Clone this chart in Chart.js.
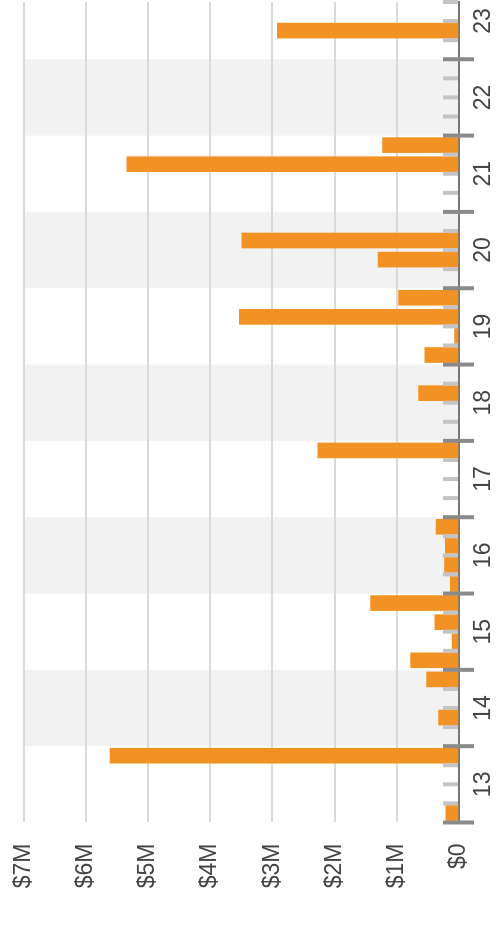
<!DOCTYPE html>
<html>
<head>
<meta charset="utf-8">
<script src="https://cdn.jsdelivr.net/npm/chart.js@4.4.1/dist/chart.umd.min.js"></script>
<style>
  html, body { margin: 0; padding: 0; background: #fff; overflow: hidden; }
  body { width: 496px; height: 930px; position: relative; }
  /* chart is drawn landscape, then turned a quarter turn counter-clockwise */
  #wrap {
    position: absolute; left: 0; top: 0;
    width: 930px; height: 496px;
    transform-origin: 0 0;
    transform: translateY(930px) rotate(-90deg);
  }
</style>
</head>
<body>
<div id="wrap"><canvas id="chart" width="930" height="496"></canvas></div>
<script>
// ─── DATA ──────────────────────────────────────────────────
// quarters from 2013 Q1 to 2023 Q3, amounts in $M (null = nothing that quarter)
var yearLabels = ['13', '14', '15', '16', '17', '18', '19', '20', '21', '22', '23'];
var amounts = [
  0.21, null, null, 5.61,   // 2013
  null, 0.33, null, 0.52,   // 2014
  0.78, 0.11, 0.39, 1.42,   // 2015
  0.14, 0.23, 0.22, 0.37,   // 2016
  null, null, null, 2.27,   // 2017
  null, null, 0.65, null,   // 2018
  0.55, 0.07, 3.53, 0.97,   // 2019
  null, 1.30, 3.49, null,   // 2020
  null, null, 5.34, 1.23,   // 2021
  null, null, null, null,   // 2022
  null, 2.92, null          // 2023
];
var valueTicks = [0, 1, 2, 3, 4, 5, 6, 7];

var quarterCount = amounts.length;
var points = amounts.map(function(v, i) { return { x: i, y: v }; });
// label sits between Q2 and Q3 of each year
var yearCenters = yearLabels.map(function(l, i) { return i * 4 + 1.5; });

var FONT = "'Liberation Sans', Arial, sans-serif";

// alternate year shading, drawn under grid
var bandsPlugin = {
  id: 'bands',
  beforeDraw: function(chart) {
    var ctx = chart.ctx, xs = chart.scales.x, a = chart.chartArea;
    ctx.save();
    ctx.fillStyle = '#f2f2f2';
    yearLabels.forEach(function(l, i) {
      if (i % 2 !== 1) return;
      var x0 = xs.getPixelForValue(i * 4 - 0.5);
      var x1 = Math.min(xs.getPixelForValue(i * 4 + 3.5), a.right);
      ctx.fillRect(x0, a.top, x1 - x0, a.bottom - a.top);
    });
    ctx.restore();
  }
};

// quarter ticks (short, light) and year ticks (long, dark) over the bars
var ticksPlugin = {
  id: 'quarterTicks',
  afterDatasetsDraw: function(chart) {
    var ctx = chart.ctx, xs = chart.scales.x, b = chart.chartArea.bottom;
    ctx.save();
    for (var i = 0; i <= quarterCount; i++) {
      var px = xs.getPixelForValue(i - 0.5);
      var major = i % 4 === 0;
      ctx.fillStyle = major ? '#8a8a8a' : '#c4c4c4';
      ctx.fillRect(px - 2, b - 16, 4, major ? 31 : 15);
    }
    ctx.restore();
  }
};

function noOverhang(axis) {
  axis.paddingTop = 0; axis.paddingBottom = 0;
  axis.paddingLeft = 0; axis.paddingRight = 0;
}

new Chart(document.getElementById('chart'), {
  type: 'bar',
  data: {
    datasets: [{
      data: points,
      backgroundColor: '#f39224',
      borderWidth: 0,
      barThickness: 15
    }]
  },
  options: {
    responsive: false,
    animation: false,
    layout: { padding: { top: 23.5, right: 2, left: 0, bottom: 0 } },
    plugins: { legend: { display: false }, tooltip: { enabled: false } },
    scales: {
      x: {
        type: 'linear',
        offset: false,
        min: -0.5,
        max: quarterCount - 0.5,
        afterBuildTicks: function(axis) {
          axis.ticks = yearCenters.map(function(v) { return { value: v }; });
        },
        afterFit: function(axis) { axis.height = 37; noOverhang(axis); },
        grid: { display: false, drawTicks: false, offset: false },
        border: { display: true, color: '#777', width: 2 },
        ticks: {
          autoSkip: false,
          maxRotation: 0,
          padding: 11,
          color: '#444',
          font: { family: FONT, size: 23 },
          callback: function(v, i) { return yearLabels[i]; }
        }
      },
      y: {
        min: 0,
        max: 7,
        afterBuildTicks: function(axis) {
          axis.ticks = valueTicks.map(function(v) { return { value: v }; });
        },
        afterFit: function(axis) { axis.width = 107.5; noOverhang(axis); },
        grid: { color: '#dadada', lineWidth: 2, drawTicks: false },
        border: { display: false },
        ticks: {
          padding: 21,
          color: '#444',
          font: { family: FONT, size: 23 },
          callback: function(v) { return v === 0 ? '$0' : '$' + v + 'M'; }
        }
      }
    }
  },
  plugins: [bandsPlugin, ticksPlugin]
});
</script>
</body>
</html>
